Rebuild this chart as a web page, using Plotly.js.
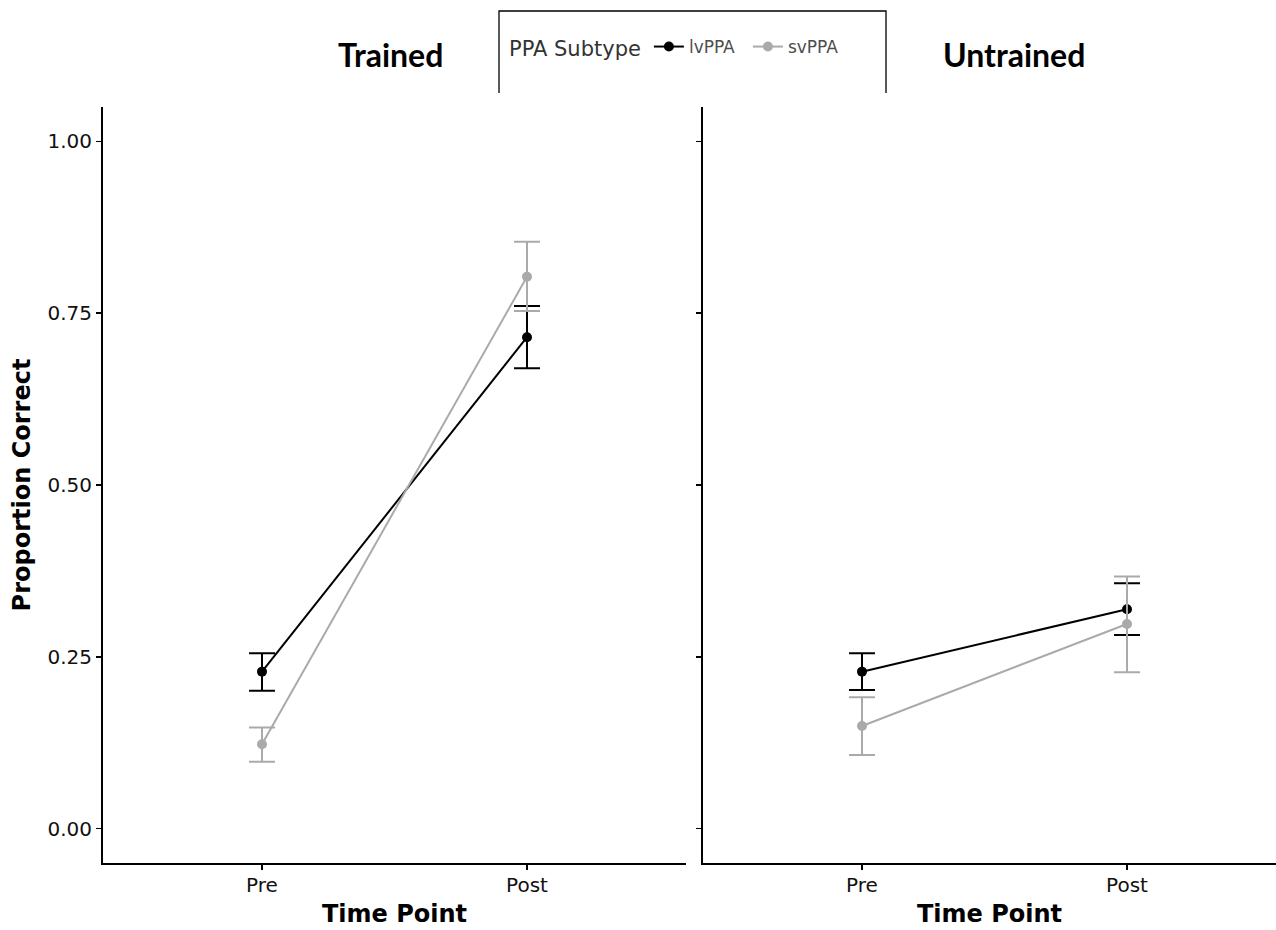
<!DOCTYPE html>
<html>
<head>
<meta charset="utf-8">
<script src="https://cdn.plot.ly/plotly-3.0.1.min.js"></script>
<style>html,body{margin:0;padding:0;background:#fff;overflow:hidden;}#chart{width:1276px;height:930px;}</style>
</head>
<body>
<div id="chart"></div>
<script>
// ---- data ----
const timePoints = ["Pre", "Post"];
const subtypes = ["lvPPA", "svPPA"];
const panels = ["Trained", "Untrained"];

const trainedLvMean  = [0.2284, 0.7150];
const trainedLvUpper = [0.2552, 0.7605];
const trainedLvLower = [0.2008, 0.6699];

const trainedSvMean  = [0.1228, 0.8031];
const trainedSvUpper = [0.1470, 0.8541];
const trainedSvLower = [0.0975, 0.7532];

const untrainedLvMean  = [0.2284, 0.3192];
const untrainedLvUpper = [0.2552, 0.3570];
const untrainedLvLower = [0.2018, 0.2818];

const untrainedSvMean  = [0.1494, 0.2978];
const untrainedSvUpper = [0.1912, 0.3667];
const untrainedSvLower = [0.1072, 0.2276];

const yTickVals = [0, 0.25, 0.5, 0.75, 1.0];
const yTickText = ["0.00", "0.25", "0.50", "0.75", "1.00"];

// ---- styles ----
const colors = {lvPPA: "#000000", svPPA: "#AAAAAA"};

function makeTrace(name, mean, upper, lower, xa, ya, showLeg) {
  const c = colors[name];
  return {
    type: "scatter", mode: "lines+markers", name: name,
    x: timePoints, y: mean, xaxis: xa, yaxis: ya,
    showlegend: showLeg, legendgroup: name,
    line: {color: c, width: 2},
    marker: {color: c, size: 10},
    error_y: {
      type: "data", symmetric: false,
      array: upper.map((u, i) => u - mean[i]),
      arrayminus: mean.map((m, i) => m - lower[i]),
      color: c, thickness: 2, width: 13
    },
    cliponaxis: false
  };
}

const data = [
  makeTrace("lvPPA", trainedLvMean, trainedLvUpper, trainedLvLower, "x", "y", true),
  makeTrace("svPPA", trainedSvMean, trainedSvUpper, trainedSvLower, "x", "y", true),
  makeTrace("lvPPA", untrainedLvMean, untrainedLvUpper, untrainedLvLower, "x2", "y2", false),
  makeTrace("svPPA", untrainedSvMean, untrainedSvUpper, untrainedSvLower, "x2", "y2", false)
];

const W = 1276, H = 930;
const yDom = [(H - 863) / H, (H - 107) / H];
const tickFont = {family: "DejaVu Sans", size: 20, color: "#111"};
const titleFont = {family: "DejaVu Sans", size: 24, color: "#000", weight: "bold"};

const xCommon = {
  type: "category", categoryorder: "array", categoryarray: timePoints,
  showline: true, linecolor: "#000", linewidth: 2,
  ticks: "outside", ticklen: 5, tickwidth: 1.5, tickcolor: "#000",
  showgrid: false, zeroline: false, tickfont: tickFont,
  ticklabelstandoff: -2
};
const yCommon = {
  range: [-0.05, 1.05], domain: yDom,
  tickvals: yTickVals, ticktext: yTickText,
  showline: true, linecolor: "#000", linewidth: 2,
  ticks: "outside", ticklen: 5, tickwidth: 1.5, tickcolor: "#000",
  showgrid: false, zeroline: false, tickfont: tickFont
};

const layout = {
  width: W, height: H,
  margin: {l: 0, r: 0, t: 0, b: 0},
  paper_bgcolor: "#fff", plot_bgcolor: "#fff",
  font: {family: "DejaVu Sans", color: "#000"},
  xaxis: Object.assign({}, xCommon, {
    domain: [103 / W, 686 / W], range: [-0.6, 1.6], anchor: "y",
    title: {text: "Time Point", font: titleFont, standoff: 9}
  }),
  xaxis2: Object.assign({}, xCommon, {
    domain: [703 / W, 1], range: [-0.6, -0.6 + 573 / 265], anchor: "y2",
    title: {text: "Time Point", font: titleFont, standoff: 9}
  }),
  yaxis: Object.assign({}, yCommon, {
    anchor: "x",
    title: {text: "Proportion Correct", font: titleFont, standoff: 10}
  }),
  yaxis2: Object.assign({}, yCommon, {
    anchor: "x2", showticklabels: false
  }),
  legend: {
    orientation: "h", x: 507 / W, xanchor: "left", y: 1 - 29 / H, yanchor: "top",
    bgcolor: "rgba(0,0,0,0)", borderwidth: 0,
    font: {family: "DejaVu Sans", size: 17, color: "#4d4d4d"},
    title: {text: "PPA Subtype", side: "left", font: {family: "DejaVu Sans", size: 21, color: "#333"}},
    itemwidth: 30, entrywidth: 54, entrywidthmode: "pixels"
  },
  annotations: [
    {text: "<b>" + panels[0] + "</b>", xref: "paper", yref: "paper", x: 390 / W, y: 1 - 54 / H,
     xanchor: "center", yanchor: "middle", showarrow: false,
     font: {family: "Lato", size: 32, color: "#000"}},
    {text: "<b>" + panels[1] + "</b>", xref: "paper", yref: "paper", x: 1014 / W, y: 1 - 54 / H,
     xanchor: "center", yanchor: "middle", showarrow: false,
     font: {family: "Lato", size: 32, color: "#000"}}
  ],
  shapes: [
    {type: "path", xref: "paper", yref: "paper",
     path: "M" + (499 / W) + "," + (1 - 93 / H) + " L" + (499 / W) + "," + (1 - 11 / H) +
           " L" + (886 / W) + "," + (1 - 11 / H) + " L" + (886 / W) + "," + (1 - 93 / H),
     line: {color: "#000", width: 1.3}}
  ]
};

Plotly.newPlot("chart", data, layout, {displayModeBar: false, staticPlot: true});
</script>
</body>
</html>
